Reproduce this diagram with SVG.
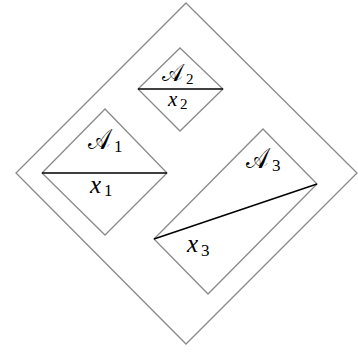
<svg xmlns="http://www.w3.org/2000/svg" width="358" height="354" viewBox="0 0 358 354">
<style>
.box{fill:none;stroke:#8a8a8a;stroke-width:1.3}
.cut{fill:none;stroke:#000;stroke-width:1.5}
.cal{font-family:"DejaVu Serif","Liberation Serif",serif;font-style:normal;fill:#000}
.var{font-family:"Liberation Serif","Times New Roman",serif;font-style:italic;fill:#000}
.sub{font-family:"Liberation Serif","Times New Roman",serif;font-style:normal;fill:#000}
</style>
<rect width="358" height="354" fill="#fff"/>
<g id="outer"><polygon class="box" points="186,3 357,173 186,344 16,173"/></g>
<g id="node-A1">
<polygon class="box" points="105,109 167,173 105,235 42,173"/>
<text class="cal" x="88" y="149" font-size="29" textLength="22" lengthAdjust="spacingAndGlyphs">𝒜</text><text class="sub" x="114" y="152" font-size="17">1</text>
<text class="var" x="90" y="193" font-size="25">x</text><text class="sub" x="104" y="196" font-size="17">1</text>
</g>
<g id="node-A2">
<polygon class="box" points="180,48 223,89 180,131 138,89"/>
<text class="cal" x="162" y="81" font-size="24" textLength="21" lengthAdjust="spacingAndGlyphs">𝒜</text><text class="sub" x="186" y="84" font-size="15">2</text>
<text class="var" x="168" y="106" font-size="21">x</text><text class="sub" x="180" y="109" font-size="15">2</text>
</g>
<g id="node-A3">
<polygon class="box" points="263,129 317,184 208,294 154,239"/>
<text class="cal" x="246" y="168" font-size="29" textLength="22" lengthAdjust="spacingAndGlyphs">𝒜</text><text class="sub" x="272" y="171" font-size="17">3</text>
<text class="var" x="187" y="252" font-size="25">x</text><text class="sub" x="201" y="256" font-size="17">3</text>
</g>
<g id="connectors">
<line class="cut" x1="42" y1="173" x2="167" y2="173"/>
<line class="cut" x1="138" y1="89" x2="223" y2="89"/>
<line class="cut" x1="154" y1="239" x2="317" y2="184"/>
</g>
</svg>
